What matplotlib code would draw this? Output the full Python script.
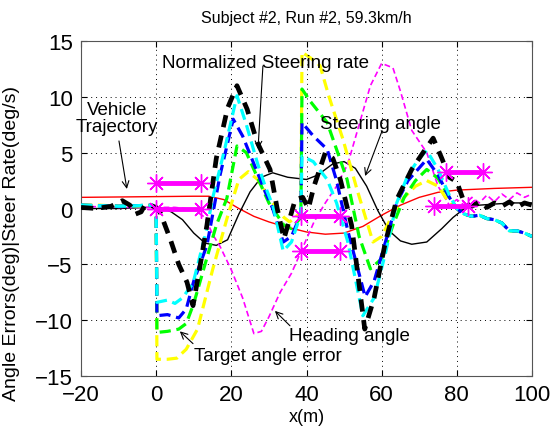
import matplotlib
matplotlib.use("Agg")
import matplotlib.pyplot as plt

plt.rcParams.update({"font.family": ["Liberation Sans", "DejaVu Sans"]})

# ---- data -----------------------------------------------------------------
traj_x = [-20, -5, 10, 14, 18, 22, 26, 30, 34, 40, 45, 50, 55, 60, 65, 70, 75, 80, 90, 100]
traj_y = [1.0, 1.05, 1.1, 1.1, 0.8, 0.0, -0.7, -1.2, -1.6, -2.1, -2.3, -2.2, -1.6, -0.6,
          0.3, 1.0, 1.45, 1.65, 1.8, 1.9]

steer_x = [-20, -10, -2, 1, 4, 7, 10, 13, 16, 19, 22, 25, 28, 31, 35, 40, 43, 47, 50, 53,
           56, 59, 62, 65, 68, 72, 76, 79, 82, 86, 90, 95, 100]
steer_y = [0, 0, 0.1, 0.1, -0.3, -1.0, -2.2, -3.1, -3.3, -2.8, -0.5, 1.5, 2.8, 3.2, 2.8,
           2.6, 3.0, 4.0, 4.2, 3.6, 2.0, -0.2, -2.0, -2.9, -3.2, -3.0, -1.8, -0.8, 0.0,
           0.3, 0.4, 0.5, 0.5]

head_x = [-20, -10, 0, 5, 10, 13, 15, 17, 20, 23, 26, 28, 30, 33, 36, 39, 42, 45, 48, 51,
          54, 57, 60, 63, 65, 68, 72, 75, 78, 80, 82, 84, 86, 88, 90, 92, 94, 96, 98, 100]
head_y = [0.2, 0.1, 0.1, 0.1, -0.1, -0.8, -2.3, -3.4, -5.5, -8.0, -11.2, -11.0, -9.7,
          -7.5, -5.8, -3.5, -1.2, 0.5, 2.0, 4.0, 7.5, 11.0, 13.0, 12.6, 10.5, 7.0, 5.0,
          2.0, 0.3, 0.8, 0.3, 1.0, 0.5, 1.2, 0.6, 1.3, 0.8, 1.4, 1.0, 1.3]

tail_x = [80, 82, 84, 86, 88, 90, 92, 94, 96, 98, 100]
tail_y = [0.0, -0.5, -0.7, -0.6, -0.9, -1.0, -1.3, -2.0, -2.0, -2.2, -2.5]

yel_x = [-20, -15, -10, -5, -1, 0, 0.2, 3, 5.5, 8, 11, 15, 19, 22, 24.5, 27, 30, 32, 34,
         35.5, 37, 38.5, 38.8, 41, 43.6, 46, 49.7, 53.4, 57.7, 60, 63, 66, 69, 72, 75, 78] + tail_x
yel_y = [0.3, 0.3, 0.2, 0.2, 0.3, 0.0, -13.5, -13.5, -13.4, -12.6, -10.8, -5.5, -0.7,
         2.6, 3.3, 2.6, 1.0, 0.0, -0.8, -1.2, -0.8, -0.3, 14.0, 13.5, 12.8, 10.0, 6.2,
         1.75, -3.0, -2.5, -0.5, 1.0, 2.0, 2.5, 2.0, 0.5] + tail_y

grn_x = [-20, -10, -1, 0, 0.2, 3, 6, 8, 10, 13, 16, 18.8, 21.5, 24, 26, 28, 30, 32, 34,
         36, 38.5, 38.8, 41, 45.5, 50.8, 54, 57, 60, 63, 66, 69, 72, 75, 78] + tail_x
grn_y = [0.3, 0.2, 0.3, 0.0, -11.1, -11.0, -10.8, -10.3, -8.5, -5.0, -1.5, 0.9, 5.6,
         5.0, 3.5, 2.0, 0.5, -0.5, -1.5, -1.8, -0.8, 10.7, 9.6, 7.7, 2.6, -2.5, -5.4,
         -4.5, -1.5, 1.0, 2.5, 3.5, 2.7, 1.0] + tail_y

blu_x = [-20, -10, -1, 0, 0.2, 3, 6, 8, 10, 13.5, 17, 20.5, 23, 26, 29, 31, 33.8, 36,
         38.5, 38.8, 41.8, 45.5, 48, 51, 55.6, 58, 61, 64, 67, 72, 75, 78] + tail_x
blu_y = [0.3, 0.2, 0.3, 0.0, -9.6, -9.5, -9.8, -9.0, -6.5, -3.3, 3.0, 8.0, 6.5, 4.0,
         1.5, 0.0, -3.0, -2.5, -0.5, 7.7, 6.5, 5.3, 2.5, -2.0, -7.9, -6.5, -3.0, 0.5,
         2.5, 4.4, 3.0, 1.0] + tail_y

cyn_x = [-20, -10, -1, 0, 0.2, 3, 5, 7, 9.8, 13.5, 15, 18, 21.5, 24, 27, 29, 31.1, 33.8,
         36, 38.5, 38.8, 41.8, 45.5, 48, 51, 55, 58, 61, 64, 67, 70, 72, 75, 78] + tail_x
cyn_y = [0.3, 0.2, 0.3, 0.0, -8.4, -8.2, -8.5, -8.0, -6.7, -1.8, 0.9, 5.0, 10.1, 7.5,
         4.0, 2.0, 0.2, -3.8, -3.0, -0.5, 4.7, 4.2, 2.6, 0.5, -3.0, -9.6, -8.0, -4.0,
         0.5, 3.0, 4.5, 5.2, 3.5, 1.2] + tail_y

rate_x = [-20, -16, -12, -9, -7, -5.5, -4, -3, -1, 0, 1, 3.7, 6, 8.2, 9.8, 11.7, 13.5, 16,
          19, 21.5, 24.2, 26.8, 30.3, 32.2, 34, 37, 39, 40.5, 42, 45, 47, 49, 52, 55.5,
          58, 61, 64, 68, 71, 73.7, 76, 78, 80, 82, 84, 86, 88, 90, 92, 94, 96, 98, 100]
rate_y = [0.1, 0.0, 0.2, 0.7, 0.3, -0.5, -0.3, 0.3, 0.2, 0.1, -0.3, -2.7, -5.0, -6.6,
          -8.7, -5.1, -1.5, 4.5, 9.0, 11.0, 8.9, 6.0, 3.5, 0.0, -2.7, 0.8, 1.0, 0.0, 2.0,
          5.0, 4.5, 2.6, -1.5, -10.8, -8.0, -3.0, 0.8, 3.5, 5.0, 6.3, 4.5, 2.8, 2.4, 0.5,
          0.2, 0.6, 0.1, 0.5, 0.2, 0.6, 0.1, 0.5, 0.3]

# magenta bars: (x start, x end, level)
bar_x0 = [0, 0, 38.5, 38.5, 77, 74]
bar_x1 = [12, 12, 49, 49, 87, 83]
bar_y = [2.3, 0.0, -0.7, -3.8, 3.3, 0.2]

fig = plt.figure(figsize=(5.53, 4.35), dpi=100)
ax = fig.add_axes([0.1465, 0.1333, 0.8155, 0.7701])

ax.plot(traj_x, traj_y, color="#ff0000", lw=1.0, zorder=2)
ax.plot(steer_x, steer_y, color="black", lw=1.0, zorder=2)
ax.plot(head_x, head_y, color="#ff00ff", lw=1.2, dashes=(3.5, 2), zorder=2)
for xs, ys, c in [(yel_x, yel_y, "#ffff00"), (grn_x, grn_y, "#00ff00"),
                  (blu_x, blu_y, "#0000ff"), (cyn_x, cyn_y, "#00ffff")]:
    ax.plot(xs, ys, color=c, lw=2.3, dashes=(3.5, 1.8), zorder=3)
ax.plot(rate_x, rate_y, color="black", lw=3.4, dashes=(2.6, 1.8), zorder=4)
for x0, x1, y in zip(bar_x0, bar_x1, bar_y):
    ax.plot([x0, x1], [y, y], color="#ff00ff", lw=3.5, zorder=5)
    ax.plot([x0, x1], [y, y], ls="none", color="#ff00ff", marker=(8, 2, 0), ms=13,
            mew=1.0, zorder=5)

ax.set_xlim(-20, 100)
ax.set_ylim(-15, 15)
ax.set_xticks([-20, 0, 20, 40, 60, 80, 100])
ax.set_yticks([-15, -10, -5, 0, 5, 10, 15])
ax.grid(True, color="black", ls=(0, (1, 4)), lw=0.7)
ax.tick_params(direction="in", length=4, labelsize=16, top=True, right=True, pad=6)
for s in ax.spines.values():
    s.set_color("#555555")

ax.set_title("Subject #2, Run #2, 59.3km/h", fontsize=11.5, pad=14)
ax.set_xlabel("x(m)", fontsize=13, labelpad=2)
ax.set_ylabel("Angle Errors(deg)|Steer Rate(deg/s)", fontsize=14)
ax.yaxis.set_label_coords(-0.135, 0.40)

# ---- annotations -----------------------------------------------------------
fs = 13.5
ax.text(-10.4, 8.1, "Vehicle\nTrajectory", ha="center", va="center", fontsize=fs,
        linespacing=1.05)
ax.text(29.0, 13.1, "Normalized Steering rate", ha="center", va="center", fontsize=fs)
ax.text(59.6, 7.6, "Steering angle", ha="center", va="center", fontsize=fs)
ax.text(51.5, -11.4, "Heading angle", ha="center", va="center", fontsize=fs)
ax.text(29.8, -13.2, "Target angle error", ha="center", va="center", fontsize=fs)

arrows = [((-9.9, 6.05), (-7.8, 1.75)), ((28.4, 12.76), (27.1, 5.33)),
          ((60.1, 6.94), (55.6, 2.91)), ((35.6, -10.5), (31.6, -9.17)),
          ((9.8, -12.1), (6.3, -11.0))]
for tail, tip in arrows:
    ax.annotate("", xy=tip, xytext=tail, zorder=6,
                arrowprops=dict(arrowstyle="->", color="black", lw=0.8,
                                mutation_scale=12, shrinkA=0, shrinkB=0))

fig.savefig("out.png", dpi=100, facecolor="white")
